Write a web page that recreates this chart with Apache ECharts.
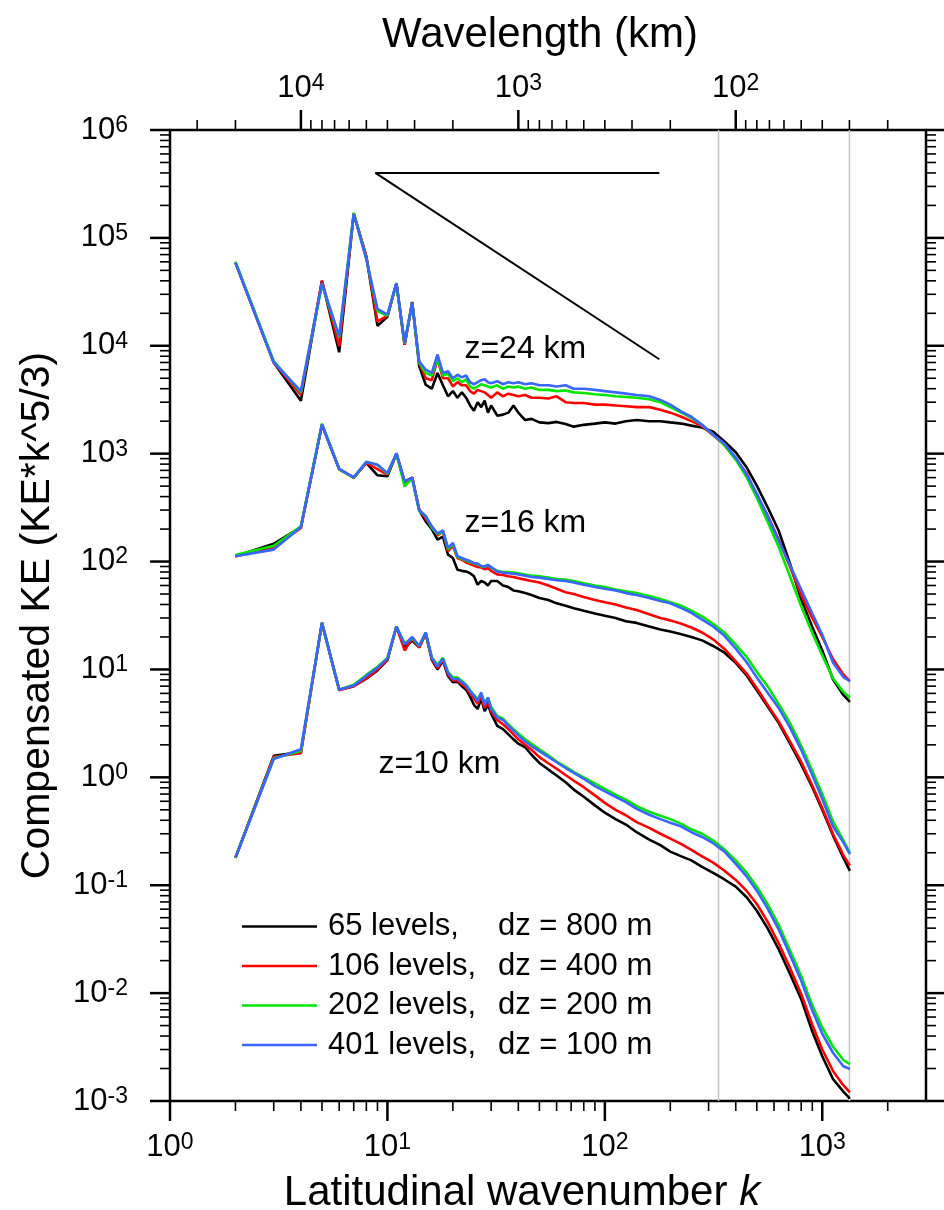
<!DOCTYPE html>
<html>
<head>
<meta charset="utf-8">
<script src="https://cdn.jsdelivr.net/npm/echarts@6/dist/echarts.min.js"></script>
<style>
  html, body { margin: 0; padding: 0; background: #fff; }
  #chart { width: 944px; height: 1210px; }
</style>
</head>
<body>
<div id="chart"></div>
<script>
// wavenumbers k shared by every curve
var kGrid = [
  2, 3, 4, 5, 6, 7, 8, 9, 10, 11,
  12, 13, 14, 15, 16, 17, 18, 19, 20, 21,
  22, 23, 24, 25, 26, 27, 28, 29, 30, 32,
  34, 36, 38, 40, 43, 46, 50, 55, 60, 66,
  72, 80, 90, 100, 112, 125, 140, 160, 180, 200,
  225, 250, 280, 315, 355, 400, 450, 500, 560, 630,
  710, 800, 900, 1000, 1120, 1250, 1340
];

// z = 24 km
var K24 = [
  5.9e4, 7.0e3, 3.1e3, 4.0e4, 8.7e3, 1.67e5, 6.7e4, 1.53e4, 1.86e4, 3.8e4,
  1.02e4, 2.55e4, 6.5e3, 4.35e3, 4.0e3, 5.6e3, 4.3e3, 3.4e3, 3.8e3, 3.3e3,
  3.7e3, 3.3e3, 2.8e3, 2.5e3, 3.0e3, 2.7e3, 3.1e3, 2.4e3, 2.8e3, 2.25e3,
  2.3e3, 2.4e3, 2.8e3, 2.4e3, 2.05e3, 2.1e3, 1.95e3, 1.92e3, 1.97e3, 1.88e3,
  1.78e3, 1.85e3, 1.9e3, 1.95e3, 1.9e3, 2.0e3, 2.05e3, 2.0e3, 2.0e3, 1.95e3,
  1.9e3, 1.82e3, 1.75e3, 1.6e3, 1.3e3, 1.03e3, 740, 506, 320, 194,
  96, 44.5, 24.7, 15, 8.1, 5.8, 5.0
];
var R24 = [
  5.9e4, 7.0e3, 3.5e3, 4.0e4, 9.9e3, 1.7e5, 6.7e4, 1.68e4, 1.9e4, 3.8e4,
  1.02e4, 2.5e4, 7.0e3, 5.0e3, 4.8e3, 7.5e3, 5.0e3, 5.0e3, 4.2e3, 4.6e3,
  4.3e3, 4.3e3, 3.8e3, 3.6e3, 3.9e3, 3.8e3, 3.7e3, 3.5e3, 3.3e3, 3.7e3,
  3.4e3, 3.6e3, 3.5e3, 3.4e3, 3.5e3, 3.3e3, 3.3e3, 3.25e3, 3.4e3, 3.0e3,
  2.95e3, 2.95e3, 2.85e3, 2.85e3, 2.8e3, 2.75e3, 2.7e3, 2.7e3, 2.55e3, 2.4e3,
  2.2e3, 2.0e3, 1.8e3, 1.48e3, 1.2e3, 900, 650, 410, 270, 160,
  90, 49, 30, 20, 12.5, 9.0, 7.8
];
var G24 = [
  6.0e4, 7.2e3, 3.7e3, 3.7e4, 1.2e4, 1.7e5, 6.4e4, 2.1e4, 1.9e4, 3.7e4,
  1.05e4, 2.5e4, 7.0e3, 5.6e3, 5.3e3, 7.6e3, 5.3e3, 5.5e3, 4.7e3, 5.0e3,
  4.6e3, 4.9e3, 4.2e3, 4.0e3, 4.2e3, 4.4e3, 4.3e3, 4.2e3, 4.1e3, 4.3e3,
  4.0e3, 4.2e3, 4.1e3, 4.2e3, 4.0e3, 4.1e3, 3.9e3, 3.9e3, 3.8e3, 3.85e3,
  3.7e3, 3.65e3, 3.55e3, 3.5e3, 3.4e3, 3.35e3, 3.3e3, 3.2e3, 3.0e3, 2.7e3,
  2.4e3, 2.15e3, 1.85e3, 1.5e3, 1.2e3, 880, 600, 390, 235, 137,
  73, 38.5, 21.8, 13.5, 8.3, 6.2, 5.5
];
var B24 = [
  5.9e4, 7.0e3, 3.8e3, 3.8e4, 1.22e4, 1.67e5, 6.3e4, 2.2e4, 1.94e4, 3.8e4,
  1.06e4, 2.5e4, 7.2e3, 6.0e3, 5.6e3, 8.3e3, 5.6e3, 5.8e3, 5.0e3, 5.4e3,
  5.1e3, 5.3e3, 4.6e3, 4.4e3, 4.6e3, 4.8e3, 4.9e3, 4.6e3, 4.5e3, 4.7e3,
  4.4e3, 4.6e3, 4.5e3, 4.6e3, 4.4e3, 4.5e3, 4.3e3, 4.3e3, 4.2e3, 4.3e3,
  4.0e3, 4.0e3, 3.9e3, 3.8e3, 3.7e3, 3.6e3, 3.5e3, 3.4e3, 3.15e3, 2.85e3,
  2.45e3, 2.2e3, 1.85e3, 1.5e3, 1.24e3, 920, 635, 427, 265, 157,
  93, 55, 33, 21, 11.6, 8.5, 7.8
];

// z = 16 km
var K16 = [
  112, 146, 209, 1850, 720, 600, 820, 630, 617, 1000,
  550, 600, 300, 236, 200, 160, 170, 116, 108, 84,
  82, 81, 78, 73, 61, 66, 64, 60, 66, 66,
  60, 58, 54, 53, 51, 49, 46, 44, 41, 39,
  37, 35, 33, 31.5, 30, 28, 27, 25, 23.5, 22.5,
  21.2, 20, 18.6, 16.5, 14.3, 11.5, 8.75, 6.4, 4.55, 3.2,
  2.06, 1.32, 0.81, 0.5, 0.29, 0.18, 0.136
];
var R16 = [
  112, 135, 205, 1850, 715, 600, 820, 720, 640, 1000,
  540, 600, 305, 250, 210, 175, 190, 125, 140, 108,
  104, 98, 95, 92, 89, 88, 85, 87, 82, 76,
  75, 73, 72, 70, 68, 66, 64, 60, 56, 52,
  50, 47, 44, 42, 40, 37.5, 35.5, 32.5, 30, 28.5,
  26.5, 24.5, 22, 19, 15.5, 11.9, 9.1, 6.7, 4.7, 3.3,
  2.15, 1.39, 0.84, 0.52, 0.3, 0.19, 0.152
];
var G16 = [
  115, 140, 212, 1900, 720, 600, 840, 790, 650, 1000,
  498, 590, 295, 265, 205, 180, 190, 130, 145, 110,
  106, 102, 99, 96, 95, 90, 90, 93, 88, 82,
  80, 80, 79, 78, 76, 74, 73, 71, 69, 68,
  66, 63, 60, 58, 55, 53, 51, 48, 45, 42,
  39, 35, 31, 26.5, 22, 17, 13, 9.5, 7.0, 4.8,
  3.2, 1.96, 1.15, 0.7, 0.39, 0.26, 0.2
];
var B16 = [
  112, 129, 209, 1860, 721, 604, 838, 790, 662, 1010,
  554, 596, 299, 263, 212, 182, 195, 134, 149, 112,
  108, 104, 101, 97, 96, 91, 90, 93, 89, 81,
  79, 78, 77, 76, 74, 72, 71, 69, 67, 66,
  64, 61, 58, 56, 54, 51, 49, 46, 43, 41,
  37, 33.5, 29, 25, 20.5, 15.6, 11.6, 8.4, 6.1, 4.4,
  2.9, 1.8, 1.05, 0.63, 0.35, 0.25, 0.194
];

// z = 10 km
var K10 = [
  0.18, 1.58, 1.72, 27, 6.5, 7.0, 8.2, 9.8, 12.2, 25,
  16, 18.5, 16, 21.5, 12.3, 10, 12, 8.7, 7.6, 7.7,
  7.0, 6.5, 5.6, 4.7, 4.3, 5.4, 4.1, 4.7, 3.9, 3.0,
  2.8, 2.5, 2.25, 2.05, 1.9, 1.62, 1.36, 1.18, 1.04, 0.9,
  0.77, 0.66, 0.55, 0.47, 0.41, 0.365, 0.31, 0.265, 0.235, 0.205,
  0.185, 0.17, 0.148, 0.13, 0.113, 0.097, 0.077, 0.058, 0.04, 0.0255,
  0.0151, 0.0088, 0.0044, 0.0026, 0.0016, 0.00122, 0.00105
];
var R10 = [
  0.18, 1.55, 1.67, 27, 6.4, 7.0, 8.3, 10.0, 12.3, 25,
  15, 19.5, 16, 21.5, 12.5, 10.3, 12.2, 9.0, 7.9, 7.9,
  7.3, 6.8, 6.0, 5.4, 4.8, 5.7, 4.4, 5.1, 4.1, 3.4,
  3.1, 2.8, 2.5, 2.25, 2.0, 1.8, 1.54, 1.35, 1.2, 1.05,
  0.93, 0.81, 0.68, 0.58, 0.5, 0.445, 0.385, 0.34, 0.3, 0.27,
  0.24, 0.213, 0.185, 0.162, 0.136, 0.112, 0.088, 0.067, 0.046, 0.029,
  0.0172, 0.0098, 0.0051, 0.003, 0.0019, 0.0014, 0.0012
];
var G10 = [
  0.18, 1.5, 1.75, 27, 6.5, 7.2, 8.9, 10.6, 12.8, 25,
  17.5, 19.5, 16.5, 22, 13, 11, 12.8, 9.5, 8.4, 8.4,
  7.8, 7.2, 6.4, 5.8, 5.3, 6.0, 4.9, 5.4, 4.5, 3.7,
  3.5, 3.1, 2.8, 2.55, 2.25, 2.05, 1.82, 1.6, 1.4, 1.25,
  1.12, 1.0, 0.88, 0.78, 0.69, 0.62, 0.54, 0.48, 0.44, 0.41,
  0.37, 0.33, 0.3, 0.26, 0.215, 0.17, 0.13, 0.097, 0.067, 0.043,
  0.025, 0.0144, 0.0077, 0.0048, 0.0032, 0.0024, 0.0022
];
var B10 = [
  0.18, 1.48, 1.82, 27, 6.5, 7.1, 8.7, 10.4, 12.6, 25,
  17, 20, 16.5, 22, 12.8, 10.7, 12.6, 9.3, 8.1, 8.2,
  7.6, 7.1, 6.3, 5.7, 5.1, 6.1, 4.7, 5.5, 4.3, 3.6,
  3.4, 3.0, 2.7, 2.45, 2.15, 1.95, 1.75, 1.55, 1.38, 1.22,
  1.1, 0.97, 0.83, 0.74, 0.66, 0.59, 0.51, 0.45, 0.41, 0.38,
  0.35, 0.31, 0.28, 0.245, 0.205, 0.158, 0.12, 0.089, 0.061, 0.039,
  0.0227, 0.013, 0.0069, 0.0042, 0.0028, 0.0021, 0.00198
];

// k^-3 guide (compensated slope -4/3)
var refK = [8.8, 178];
var refTop = 4.0e5;
var refEnd = 7.5e3;

// gray marker wavenumbers (120 km and 30 km)
var markK = [40000 / 120, 40000 / 30];

var zLabels = [
  [22.6, 9.4e3, 'z=24 km'],
  [22.6, 225, 'z=16 km'],
  [9.1, 1.32, 'z=10 km']
];

// axis ranges, tick values
var kMin = 1, kMax = 3000;
var vMin = 1e-3, vMax = 1e6;
var earthKm = 40000;
var kMajor = [1, 10, 100, 1000];
var kMinor = [2, 3, 4, 5, 6, 7, 8, 9, 20, 30, 40, 50, 60, 70, 80, 90,
  200, 300, 400, 500, 600, 700, 800, 900, 2000];
var wlMajor = [10000, 1000, 100];
var wlMinor = [30000, 20000, 9000, 8000, 7000, 6000, 5000, 4000, 3000, 2000,
  900, 800, 700, 600, 500, 400, 300, 200, 90, 80, 70, 60, 50, 40, 30, 20];
var vMajor = [1e-3, 1e-2, 1e-1, 1, 10, 100, 1e3, 1e4, 1e5, 1e6];
var vMinor = [];
for (var e = -3; e < 6; e++) {
  for (var m = 2; m <= 9; m++) vMinor.push(m * Math.pow(10, e));
}

var runs = [
  { name: '65 levels', dz: 'dz = 800 m', color: '#000000', sets: [K24, K16, K10] },
  { name: '106 levels', dz: 'dz = 400 m', color: '#ff0000', sets: [R24, R16, R10] },
  { name: '202 levels', dz: 'dz = 200 m', color: '#00e600', sets: [G24, G16, G10] },
  { name: '401 levels', dz: 'dz = 100 m', color: '#3a66ff', sets: [B24, B16, B10] }
];

var FONT = '"Liberation Sans", Arial, Helvetica, sans-serif';

function powLabel(v) {
  var e = Math.log(v) / Math.LN10;
  var r = Math.round(e);
  if (Math.abs(e - r) > 1e-6) return '';
  return '{b|10}{s|' + r + '}';
}
var powRich = {
  b: { fontSize: 31, fontFamily: FONT, color: '#000', lineHeight: 32 },
  s: { fontSize: 23, fontFamily: FONT, color: '#000', lineHeight: 22, verticalAlign: 'top' }
};

function tickSeries(xIdx, data, dx, dy, width) {
  return {
    type: 'custom',
    xAxisIndex: xIdx,
    yAxisIndex: 0,
    silent: true,
    clip: false,
    z: 10,
    data: data,
    renderItem: function (params, api) {
      var p = api.coord([api.value(0), api.value(1)]);
      return {
        type: 'line',
        shape: { x1: p[0], y1: p[1], x2: p[0] + dx, y2: p[1] + dy },
        style: { stroke: '#000', lineWidth: width }
      };
    }
  };
}

var series = [];

// gray vertical markers
markK.forEach(function (k) {
  series.push({
    type: 'line', silent: true, symbol: 'none', z: 1,
    lineStyle: { color: '#c4c4c4', width: 1.5 },
    data: [[k, vMin], [k, vMax]]
  });
});

runs.forEach(function (run) {
  run.sets.forEach(function (vals) {
    series.push({
      name: run.name,
      type: 'line',
      symbol: 'none',
      showSymbol: false,
      z: 3,
      color: run.color,
      lineStyle: { color: run.color, width: 2.6 },
      data: kGrid.map(function (k, i) { return [k, vals[i]]; })
    });
  });
});

// slope guide
series.push({
  type: 'line', silent: true, symbol: 'none', z: 4,
  lineStyle: { color: '#000', width: 2 },
  data: [[refK[0], refTop], [refK[1], refTop]]
});
series.push({
  type: 'line', silent: true, symbol: 'none', z: 4,
  lineStyle: { color: '#000', width: 2 },
  data: [[refK[0], refTop], [refK[1], refEnd]]
});

// level labels
series.push({
  type: 'scatter', silent: true, symbolSize: 0, z: 5,
  itemStyle: { opacity: 1 },
  data: zLabels,
  label: {
    show: true, position: 'right', distance: 0, opacity: 1,
    formatter: function (p) { return p.data[2]; },
    fontFamily: FONT, fontSize: 32, color: '#000'
  }
});

// ticks: bottom, top, left, right
series.push(tickSeries(0, kMajor.map(function (k) { return [k, vMin]; }), 0, 20, 2.5));
series.push(tickSeries(0, kMinor.map(function (k) { return [k, vMin]; }), 0, 10, 1.6));
series.push(tickSeries(1, wlMajor.map(function (w) { return [w, vMax]; }), 0, -20, 2.5));
series.push(tickSeries(1, wlMinor.map(function (w) { return [w, vMax]; }), 0, -10, 1.6));
series.push(tickSeries(0, vMajor.map(function (v) { return [kMin, v]; }), -20, 0, 2.5));
series.push(tickSeries(0, vMinor.map(function (v) { return [kMin, v]; }), -10, 0, 1.6));
series.push(tickSeries(0, vMajor.map(function (v) { return [kMax, v]; }), 20, 0, 2.5));
series.push(tickSeries(0, vMinor.map(function (v) { return [kMax, v]; }), 10, 0, 1.6));

var dzOf = {};
runs.forEach(function (r) { dzOf[r.name] = r.dz; });

var labelBase = { fontFamily: FONT, fontSize: 31, color: '#000', formatter: powLabel, rich: powRich };

var chart = echarts.init(document.getElementById('chart'), null, { renderer: 'canvas' });
chart.setOption({
  animation: false,
  backgroundColor: '#fff',
  grid: {
    left: 170, right: 18, top: 130, bottom: 109,
    outerBoundsMode: 'none',
    show: true, borderColor: '#000', borderWidth: 2.5, backgroundColor: 'transparent'
  },
  legend: {
    data: runs.map(function (r) { return r.name; }),
    orient: 'vertical',
    left: 237, top: 906,
    icon: 'rect',
    itemWidth: 75, itemHeight: 2.6, itemGap: 8.5,
    selectedMode: false,
    formatter: function (name) { return '{a|' + name + ',}{b|' + dzOf[name] + '}'; },
    textStyle: {
      fontFamily: FONT, fontSize: 31, color: '#000', lineHeight: 30,
      rich: {
        a: { fontFamily: FONT, fontSize: 31, color: '#000', lineHeight: 30, width: 170, padding: [0, 0, 0, 6] },
        b: { fontFamily: FONT, fontSize: 31, color: '#000', lineHeight: 30 }
      }
    }
  },
  xAxis: [
    {
      type: 'log', logBase: 10, min: kMin, max: kMax, position: 'bottom',
      axisLine: { show: false }, axisTick: { show: false }, splitLine: { show: false },
      axisLabel: Object.assign({ margin: 30 }, labelBase),
      name: 'Latitudinal wavenumber {i|k}',
      nameLocation: 'middle', nameGap: 71,
      nameTextStyle: {
        fontFamily: FONT, fontSize: 42, color: '#000', padding: [0, 52, 0, 0],
        rich: { i: { fontFamily: FONT, fontSize: 42, fontStyle: 'italic', color: '#000' } }
      }
    },
    {
      type: 'log', logBase: 10, min: earthKm / kMax, max: earthKm / kMin,
      inverse: true, position: 'top',
      axisLine: { show: false }, axisTick: { show: false }, splitLine: { show: false },
      axisLabel: Object.assign({ margin: 26 }, labelBase),
      name: 'Wavelength (km)',
      nameLocation: 'middle', nameGap: 74,
      nameTextStyle: { fontFamily: FONT, fontSize: 42, color: '#000', padding: [0, 16, 0, 0] }
    }
  ],
  yAxis: [
    {
      type: 'log', logBase: 10, min: vMin, max: vMax,
      axisLine: { show: false }, axisTick: { show: false }, splitLine: { show: false },
      axisLabel: Object.assign({ margin: 42 }, labelBase),
      name: 'Compensated KE (KE*k^5/3)',
      nameLocation: 'middle', nameGap: 112, nameRotate: 90,
      nameTextStyle: { fontFamily: FONT, fontSize: 41, color: '#000' }
    }
  ],
  series: series
});
</script>
</body>
</html>
